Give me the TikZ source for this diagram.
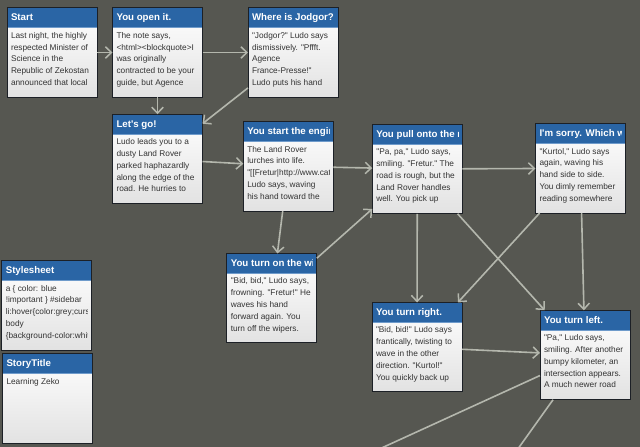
\documentclass[tikz,border=0pt]{standalone}
\usepackage{fontspec}
\setmainfont{Liberation Sans}[Ligatures=TeXOff]
\usetikzlibrary{arrows.meta}
\definecolor{bgc}{HTML}{565751}
\definecolor{headc}{HTML}{2A65A5}
\definecolor{headl}{HTML}{6F9BCB}
\definecolor{edgec}{HTML}{B4B7AD}
\definecolor{framec}{HTML}{1C2026}
\definecolor{txtc}{HTML}{333333}
\definecolor{botc}{HTML}{E2E2E2}
\tikzset{
  x=1pt,y=-1pt,
  storyframe/.style={draw=framec,line width=1pt,top color=white,bottom color=botc,minimum width=90pt,minimum height=89.5pt,inner sep=0pt,outer sep=0pt,anchor=center},
  headband/.style={fill=headc},
  headtext/.style={anchor=base west,inner sep=0pt,text=white,font=\fontsize{9.7}{11}\selectfont\bfseries},
  bodytext/.style={anchor=north west,inner sep=0pt,align=left,text=txtc,font=\fontsize{8.3}{11.8}\selectfont},
  link/.style={draw=edgec,line width=1.6pt,-{Straight Barb[length=6pt,width=11.5pt,line width=1.5pt]}},
  plainlink/.style={draw=edgec,line width=1.6pt},
}
\newcommand{\storybox}[5]{%
  \node[storyframe] (#1) at (#2,#3) {};
  \begin{scope}[shift={(#2,#3)}]
    \fill[headband] (-44.5,-44.25) rectangle (44.5,-25.3);
    \draw[headl,line width=.7pt] (-44.5,-25) -- (44.5,-25);
    \begin{scope}
      \clip (-44.5,-44.75) rectangle (41,44.75);
      \node[headtext] (#1-head) at (-41.2,-32) {#4};
      \node[bodytext] (#1-body) at (-41.2,-22.7) {\strut #5};
    \end{scope}
  \end{scope}
}
\begin{document}
\begin{tikzpicture}
\useasboundingbox (0,0) rectangle (640,447);
\clip (0,0) rectangle (640,447);
\fill[bgc] (0,0) rectangle (640,447);
\storybox{start}{52}{52.5}{Start}{Last night, the highly\\respected Minister of\\Science in the\\Republic of Zekostan\\announced that local}
\storybox{open}{157.5}{52.5}{You open it.}{The note says,\\<html><blockquote>I\\was originally\\contracted to be your\\guide, but Agence}
\storybox{jodgor}{293}{52.5}{Where is Jodgor?}{"Jodgor?" Ludo says\\dismissively. "Pffft.\\Agence\\France-Presse!"\\Ludo puts his hand}
\storybox{letsgo}{157.5}{159}{Let's go!}{Ludo leads you to a\\dusty Land Rover\\parked haphazardly\\along the edge of the\\road. He hurries to}
\storybox{engine}{288.3}{166.3}{You start the engine}{The Land Rover\\lurches into life.\\"[[Fretur|http://www.catb.org\\Ludo says, waving\\his hand toward the}
\storybox{pull}{417.3}{169}{You pull onto the road}{"Pa, pa," Ludo says,\\smiling. "Fretur." The\\road is rough, but the\\Land Rover handles\\well. You pick up}
\storybox{sorry}{580.5}{168.3}{I'm sorry. Which way}{"Kurtol," Ludo says\\again, waving his\\hand side to side.\\You dimly remember\\reading somewhere}
\storybox{wipers}{271.8}{298.2}{You turn on the wipers}{"Bid, bid," Ludo says,\\frowning. "Fretur!" He\\waves his hand\\forward again. You\\turn off the wipers.}
\storybox{right}{417}{347.2}{You turn right.}{"Bid, bid!" Ludo says\\frantically, twisting to\\wave in the other\\direction. "Kurtol!"\\You quickly back up}
\storybox{left}{585}{355}{You turn left.}{"Pa," Ludo says,\\smiling. After another\\bumpy kilometer, an\\intersection appears.\\A much newer road}
\storybox{sheet}{46.8}{305.3}{Stylesheet}{a \{ color: blue\\!important \} \#sidebar\\li:hover\{color:grey;cursor:pointer\}\\body\\\{background-color:white\}}
\storybox{title}{47.5}{398.3}{StoryTitle}{Learning Zeko}
\coordinate (offa) at (340,467);
\coordinate (offb) at (505,467);
\draw[link] (start) -- (open);
\draw[link] (open) -- (jodgor);
\draw[link] (open) -- (letsgo);
\draw[link] (jodgor) -- (letsgo);
\draw[link] (letsgo) -- (engine);
\draw[link] (engine) -- (pull);
\draw[link] (engine) -- (wipers);
\draw[link] (wipers) -- (pull);
\draw[link] (pull) -- (sorry);
\draw[link] (pull) -- (right);
\draw[link] (pull) -- (left);
\draw[link] (sorry) -- (right);
\draw[link] (sorry) -- (left);
\draw[link] (right) -- (left);
\draw[plainlink] (left) -- (offa);
\draw[plainlink] (left) -- (offb);
\end{tikzpicture}
\end{document}
